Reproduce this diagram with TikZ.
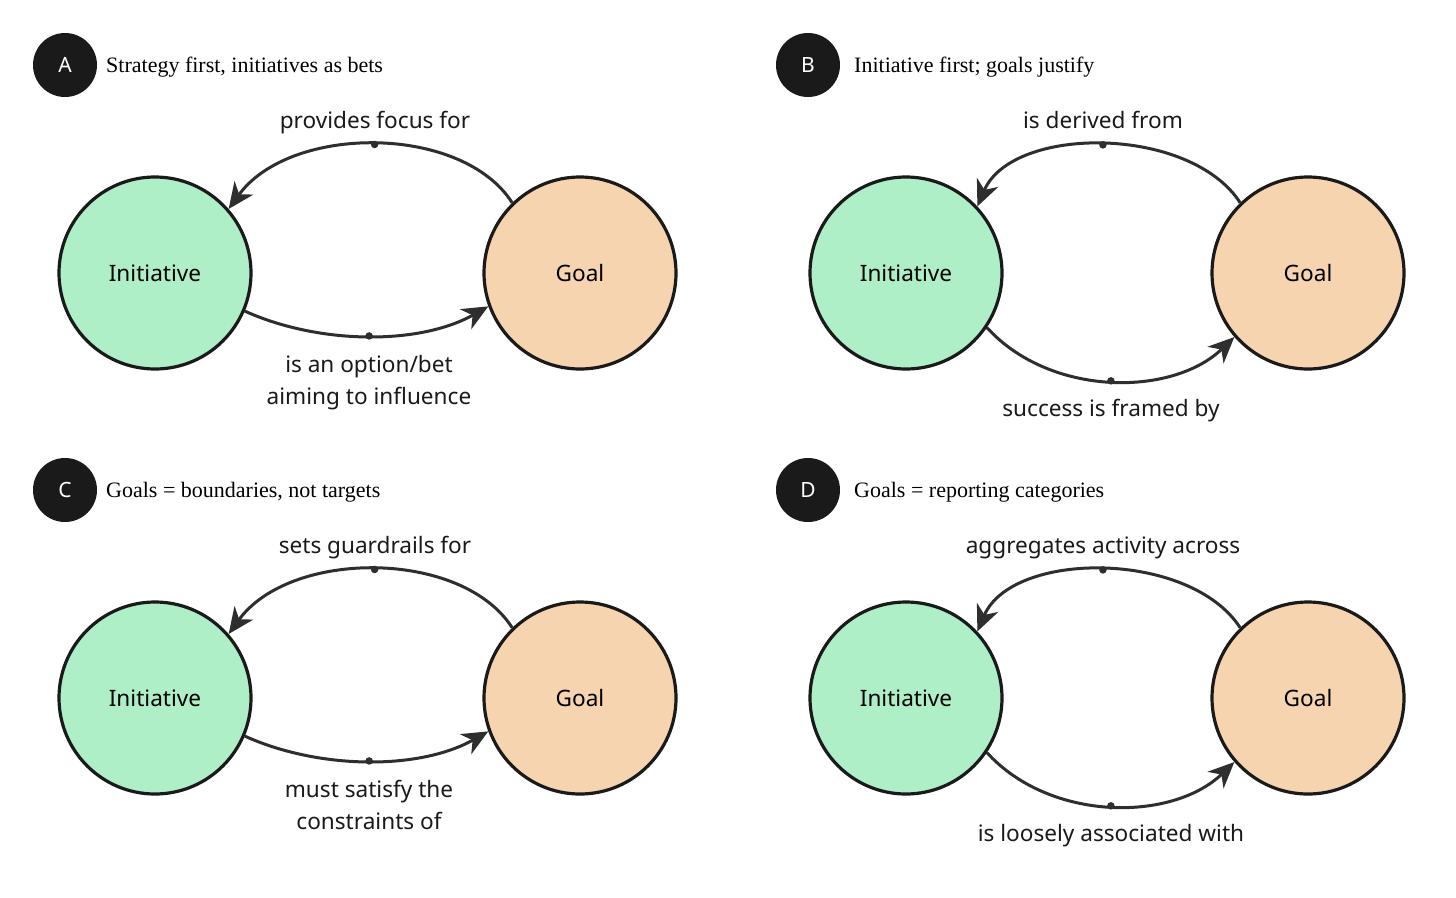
\documentclass[tikz,border=0pt]{standalone}
\usepackage{fontspec}
\setmainfont{Noto Sans}
\newfontfamily\titlefont{Liberation Serif}
\usetikzlibrary{arrows.meta}
\definecolor{initfill}{HTML}{AEEFC8}
\definecolor{goalfill}{HTML}{F6D4AF}
\definecolor{ink}{HTML}{1A1A1A}
\definecolor{wire}{HTML}{2E2E2E}
\tikzset{
  x=1pt, y=1pt,
  initnode/.style={circle, draw=ink, line width=3.2pt, fill=initfill, minimum size=192pt, inner sep=0pt, font=\fontsize{22.6}{26}\selectfont},
  goalnode/.style={circle, draw=ink, line width=3.2pt, fill=goalfill, minimum size=192pt, inner sep=0pt, font=\fontsize{22.6}{26}\selectfont},
  badge/.style={circle, fill=ink, minimum size=64pt, inner sep=0pt, text=white, font=\fontsize{21}{24}\selectfont},
  paneltitle/.style={anchor=base west, inner sep=0pt, font=\titlefont\fontsize{22}{24}\selectfont},
  edgelabel/.style={anchor=base, inner sep=0pt, align=center, font=\fontsize{22.6}{32}\selectfont, text=ink},
  link/.style={draw=wire, line width=3pt, -{Stealth[length=26pt, width=23pt, inset=8pt]}},
  middot/.style={circle, fill=wire, minimum size=7.5pt, inner sep=0pt},
}
\newcommand{\leftpanel}[5]{%
  \begin{scope}[shift={(0,#1)}, name prefix=#2-]
    \node[badge] (badge) at (65,-65) {#2};
    \node[paneltitle] (title) at (106,-72) {#3};
    \node[initnode] (init) at (155,-273) {Initiative};
    \node[goalnode] (goal) at (580,-273) {Goal};
    \draw[link] (goal.134) .. controls (462,-124) and (290,-124) .. (init.41)
      node[middot, pos=0.5] (topdot) {};
    \node[edgelabel] (toplabel) at (375,-128) {#4};
    \draw[link] (init.-23) .. controls (320,-345) and (420,-345) .. (goal.200)
      node[middot, pos=0.5] (botdot) {};
    \node[edgelabel] (botlabel) at (369,-404) {#5};
  \end{scope}}
\newcommand{\rightpanel}[5]{%
  \begin{scope}[shift={(0,#1)}, name prefix=#2-]
    \node[badge] (badge) at (808,-65) {#2};
    \node[paneltitle] (title) at (854,-72) {#3};
    \node[initnode] (init) at (906,-273) {Initiative};
    \node[goalnode] (goal) at (1308,-273) {Goal};
    \draw[link] (goal.134) .. controls (1190,-125) and (1012,-125) .. (init.43)
      node[middot, pos=0.5] (topdot) {};
    \node[edgelabel] (toplabel) at (1103,-128) {#4};
    \draw[link] (init.-34) .. controls (1050,-397) and (1172,-397) .. (goal.221)
      node[middot, pos=0.5] (botdot) {};
    \node[edgelabel] (botlabel) at (1111,-416) {#5};
  \end{scope}}
\begin{document}
\begin{tikzpicture}
  \useasboundingbox[fill=white] (0,0) rectangle (1456,-897);
  \leftpanel{0}{A}{Strategy first, initiatives as bets}{provides focus for}{is an option/bet\\aiming to influence}
  \rightpanel{0}{B}{Initiative first; goals justify}{is derived from}{success is framed by}
  \leftpanel{-425}{C}{Goals = boundaries, not targets}{sets guardrails for}{must satisfy the\\constraints of}
  \rightpanel{-425}{D}{Goals = reporting categories}{aggregates activity across}{is loosely associated with}
\end{tikzpicture}
\end{document}
